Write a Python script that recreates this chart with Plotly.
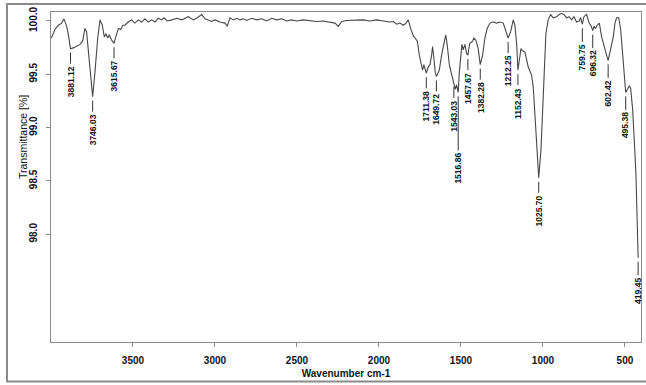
import numpy as np
import plotly.graph_objects as go

# ---------------- data ----------------
wavenumber = [
    3998, 3976, 3955, 3935, 3921, 3904, 3893, 3881.12, 3860, 3848, 3823, 3807, 3793, 3783, 3766,
    3746.03, 3732, 3715, 3701, 3687, 3675, 3665, 3654, 3645, 3630, 3615.67, 3605, 3589, 3575, 3562,
    3549, 3529, 3508, 3488, 3468, 3447, 3427, 3407, 3386, 3366, 3346, 3325, 3311, 3291, 3262, 3233,
    3203, 3163, 3132, 3112, 3081, 3061, 3041, 3020, 3000, 2970, 2939, 2925, 2909, 2888, 2868, 2848,
    2827, 2807, 2776, 2746, 2715, 2685, 2654, 2624, 2593, 2563, 2532, 2502, 2462, 2421, 2380, 2340,
    2299, 2268, 2248, 2227, 2197, 2136, 2096, 2055, 2014, 1974, 1933, 1913, 1892, 1872, 1852, 1835,
    1821, 1807, 1790, 1780, 1766, 1754, 1744, 1734, 1726, 1711.38, 1699, 1689, 1679, 1673, 1665,
    1657, 1649.72, 1632, 1618, 1604, 1593, 1584, 1571, 1560, 1550, 1543.03, 1535, 1527, 1516.86,
    1510, 1502, 1494, 1486, 1476, 1466, 1457.67, 1452, 1445, 1429, 1421, 1409, 1395, 1382.28, 1368,
    1354, 1340, 1323, 1303, 1282, 1262, 1242, 1226, 1212.25, 1197, 1181, 1171, 1160, 1152.43, 1134,
    1124, 1110, 1090, 1069, 1059, 1049, 1038, 1025.70, 1012, 1002, 992, 982, 968, 953, 937, 916,
    901, 886, 872, 855, 840, 825, 811, 795, 779, 770, 759.75, 750, 734, 718, 705, 696.32, 688, 680,
    670, 656, 642, 628, 612, 602.42, 587, 571, 561, 551, 538, 526, 516, 506, 495.38, 484, 474, 465,
    453, 443, 433, 425, 419.45,
]
transmittance = [
    99.84, 99.92, 99.96, 99.98, 100.02, 99.95, 99.86, 99.74, 99.75, 99.76, 99.78, 99.81, 99.93, 99.90, 99.62,
    99.29, 99.52, 99.84, 100.01, 99.96, 99.85, 99.88, 99.84, 99.87, 99.82, 99.79, 99.85, 99.93, 99.92, 99.96,
    99.96, 99.99, 100.01, 99.98, 100.01, 99.99, 100.02, 99.99, 100.01, 99.99, 100.025, 100.01, 100.03, 100.0, 100.01, 100.025,
    100.01, 100.04, 100.01, 100.025, 100.06, 100.02, 100.01, 99.995, 100.01, 99.99, 99.98, 99.95, 100.03, 100.01, 100.025, 100.01,
    100.02, 100.005, 100.025, 100.01, 100.02, 100.0, 100.025, 100.01, 100.02, 100.0, 100.01, 100.0, 100.01, 100.0, 99.995, 100.0,
    99.99, 99.98, 99.95, 99.995, 100.005, 100.005, 100.01, 100.0, 100.01, 100.0, 99.99, 99.995, 99.97, 99.98, 99.96, 99.98,
    100.01, 99.93, 99.86, 99.84, 99.81, 99.68, 99.59, 99.54, 99.59, 99.51, 99.57, 99.59, 99.68, 99.76, 99.65,
    99.52, 99.48, 99.54, 99.68, 99.81, 99.87, 99.78, 99.59, 99.52, 99.46, 99.42, 99.36, 99.40, 99.33,
    99.52, 99.68, 99.78, 99.73, 99.78, 99.70, 99.68, 99.74, 99.79, 99.81, 99.84, 99.82, 99.74, 99.59, 99.68,
    99.84, 99.93, 99.98, 99.99, 99.98, 99.99, 99.98, 99.90, 99.84, 99.90, 100.01, 99.96, 99.78, 99.54, 99.74,
    99.72, 99.71, 99.57, 99.49, 99.38, 99.10, 98.79, 98.53, 98.79, 99.17, 99.57, 99.88, 100.01, 100.06, 100.03, 100.04,
    100.06, 100.07, 100.06, 100.03, 100.04, 100.01, 100.04, 99.99, 100.0, 100.03, 99.97, 100.04, 100.06, 99.98, 99.95, 99.91, 99.95, 99.93,
    99.96, 99.98, 99.85, 99.76, 99.68, 99.63, 99.73, 99.85, 99.98, 100.03, 100.03, 99.92, 99.73, 99.52, 99.33, 99.36, 99.39, 99.37,
    99.17, 98.88, 98.57, 98.10, 97.78,
]

peak_wavenumbers = [3881.12, 3746.03, 3615.67, 1711.38, 1649.72, 1543.03, 1516.86, 1457.67,
                    1382.28, 1212.25, 1152.43, 1025.70, 759.75, 696.32, 602.42, 495.38, 419.45]
peak_labels = ["3881.12", "3746.03", "3615.67", "1711.38", "1649.72", "1543.03", "1516.86", "1457.67",
               "1382.28", "1212.25", "1152.43", "1025.70", "759.75", "696.32", "602.42", "495.38", "419.45"]

x_ticks = [3500, 3000, 2500, 2000, 1500, 1000, 500]
y_ticks = [98.0, 98.5, 99.0, 99.5, 100.0]
y_tick_labels = ["98.0", "98.5", "99.0", "99.5", "100.0"]

# ---------------- layout config ----------------
W, H = 646, 385
ML, MR, MT, MB = 51, 5, 12, 43
PW, PH = W - ML - MR, H - MT - MB
TEXT = "#111111"
GRAY = "#8a8a8a"
FONT = "Liberation Sans, Arial, sans-serif"
label_offset_px = {"1516.86": 76}
default_offset_px = 33

fig = go.Figure()
fig.add_trace(go.Scatter(x=wavenumber, y=transmittance, mode="lines",
                         line=dict(color="#474747", width=1.1), hoverinfo="skip",
                         showlegend=False))

asc_x = np.array(wavenumber)[::-1]
asc_y = np.array(transmittance)[::-1]
for wn, lab in zip(peak_wavenumbers, peak_labels):
    yv = float(np.interp(wn, asc_x, asc_y))
    fig.add_annotation(x=wn, y=yv, xref="x", yref="y", text="<b>" + lab + "</b>", textangle=-90,
                       showarrow=True, arrowhead=0, arrowwidth=1, arrowcolor="#333",
                       ax=0, ay=label_offset_px.get(lab, default_offset_px),
                       standoff=4, borderpad=2,
                       font=dict(family=FONT, size=8.5, color=TEXT))


def px_to_paper_x(px):
    return (px - ML) / PW


def px_to_paper_y(py):
    return (H - MB - py) / PH


fig.add_annotation(x=px_to_paper_x(15), y=px_to_paper_y(137), xref="paper", yref="paper",
                   text="Transmittance [%]", textangle=-90, showarrow=False,
                   font=dict(family=FONT, size=10.5, color=TEXT))

# outer frame around the whole picture
fig.add_shape(type="rect", xref="paper", yref="paper",
              x0=px_to_paper_x(7), x1=px_to_paper_x(648),
              y0=px_to_paper_y(381.5), y1=px_to_paper_y(4),
              line=dict(color=GRAY, width=2), fillcolor="rgba(0,0,0,0)", layer="above")

fig.update_layout(
    width=W, height=H,
    margin=dict(l=ML, r=MR, t=MT, b=MB),
    paper_bgcolor="white", plot_bgcolor="white",
    font=dict(family=FONT, color=TEXT),
    showlegend=False,
    xaxis=dict(range=[4000, 402], tickvals=x_ticks, ticktext=["<b>%d</b>" % v for v in x_ticks],
               ticks="outside", ticklen=4, tickcolor=GRAY, showgrid=False, zeroline=False,
               showline=True, linecolor=GRAY, linewidth=1, mirror=True,
               ticklabelstandoff=5,
               tickfont=dict(family=FONT, size=10, color=TEXT),
               title=dict(text="<b>Wavenumber cm-1</b>", standoff=4,
                          font=dict(family=FONT, size=10, color=TEXT))),
    yaxis=dict(range=[96.99, 100.084], tickvals=y_ticks,
               ticktext=["<b>%s</b>" % t for t in y_tick_labels],
               tickangle=-90, ticks="outside", ticklen=4, tickcolor=GRAY,
               showgrid=False, zeroline=False, ticklabelstandoff=5,
               showline=True, linecolor=GRAY, linewidth=1, mirror=True,
               tickfont=dict(family=FONT, size=10, color=TEXT)),
)

fig.write_html("out.html", config=dict(displayModeBar=False, staticPlot=True),
               post_script="document.body.style.margin='0';document.body.style.overflow='hidden';")
